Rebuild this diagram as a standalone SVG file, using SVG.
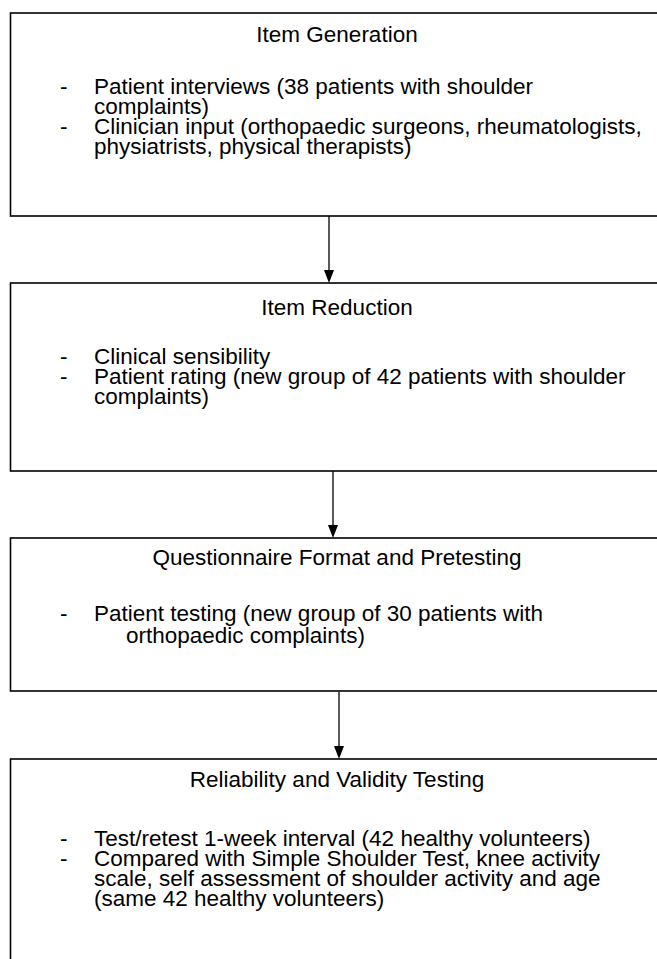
<svg xmlns="http://www.w3.org/2000/svg" width="657" height="959" viewBox="0 0 657 959">
<style>
.box{fill:#fff;stroke:#000;stroke-width:1.6}
.t{font-family:"Liberation Sans",Arial,sans-serif;font-size:22.5px;fill:#000}
.c{text-anchor:middle}
.ln{stroke:#000;stroke-width:1.3;fill:none}
.hd{fill:#000}
</style>
<g id="connectors">
<line class="ln" x1="329" y1="216" x2="329" y2="272"/><path class="hd" d="M324,270 L334,270 L329,283 Z"/>
<line class="ln" x1="333" y1="471" x2="333" y2="527"/><path class="hd" d="M328,525 L338,525 L333,538 Z"/>
<line class="ln" x1="339" y1="692" x2="339" y2="748"/><path class="hd" d="M334,746 L344,746 L339,759 Z"/>
</g>
<g id="n1">
<rect class="box" x="10.5" y="13" width="660" height="203"/>
<text class="t c" x="337" y="42">Item Generation</text>
<text class="t" x="60" y="94">-</text><text class="t" x="94" y="94">Patient interviews (38 patients with shoulder</text>
<text class="t" x="94" y="114">complaints)</text>
<text class="t" x="60" y="134">-</text><text class="t" x="94" y="134">Clinician input (orthopaedic surgeons, rheumatologists,</text>
<text class="t" x="94" y="154">physiatrists, physical therapists)</text>
</g>
<g id="n2">
<rect class="box" x="10.5" y="283" width="660" height="188"/>
<text class="t c" x="337" y="315">Item Reduction</text>
<text class="t" x="60" y="364">-</text><text class="t" x="94" y="364">Clinical sensibility</text>
<text class="t" x="60" y="384">-</text><text class="t" x="94" y="384">Patient rating (new group of 42 patients with shoulder</text>
<text class="t" x="94" y="404">complaints)</text>
</g>
<g id="n3">
<rect class="box" x="10.5" y="538" width="660" height="153"/>
<text class="t c" x="337" y="565">Questionnaire Format and Pretesting</text>
<text class="t" x="60" y="621">-</text><text class="t" x="94" y="621">Patient testing (new group of 30 patients with</text>
<text class="t" x="126" y="643">orthopaedic complaints)</text>
</g>
<g id="n4">
<rect class="box" x="10.5" y="759" width="660" height="220"/>
<text class="t c" x="337" y="787">Reliability and Validity Testing</text>
<text class="t" x="60" y="846">-</text><text class="t" x="94" y="846">Test/retest 1-week interval (42 healthy volunteers)</text>
<text class="t" x="60" y="866">-</text><text class="t" x="94" y="866">Compared with Simple Shoulder Test, knee activity</text>
<text class="t" x="94" y="886">scale, self assessment of shoulder activity and age</text>
<text class="t" x="94" y="906">(same 42 healthy volunteers)</text>
</g>
</svg>
